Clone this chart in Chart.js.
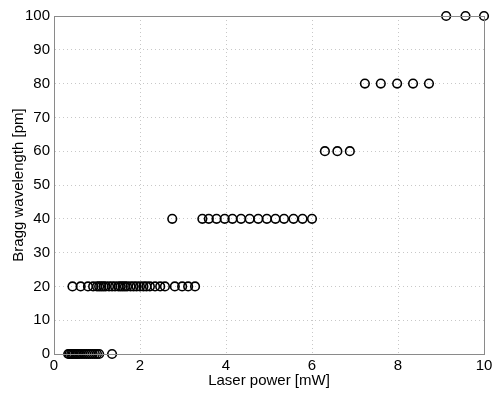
<!DOCTYPE html>
<html>
<head>
<meta charset="utf-8">
<script src="https://cdn.jsdelivr.net/npm/chart.js@4"></script>
<style>
  html, body { margin: 0; padding: 0; background: #fff; }
  #wrap { width: 492px; height: 393px; }
</style>
</head>
<body>
<div id="wrap"><canvas id="grafico" width="492" height="393"></canvas></div>
<script>
// laser power [mW] readings for each Bragg wavelength step [pm]
let power0 = [0.33, 0.36, 0.4, 0.43, 0.46, 0.5, 0.53, 0.56, 0.6, 0.65, 0.7, 0.75, 0.8, 0.85, 0.9, 0.95, 1.0, 1.05, 1.35];
let power20 = [0.43, 0.62, 0.79, 0.91, 1.0, 1.05, 1.1, 1.15, 1.2, 1.28, 1.35, 1.42, 1.5, 1.55, 1.6, 1.65, 1.7, 1.78,
               1.85, 1.92, 2.0, 2.08, 2.15, 2.23, 2.35, 2.47, 2.58, 2.81, 2.98, 3.12, 3.28];
let power40 = [2.75, 3.45, 3.6, 3.78, 3.97, 4.15, 4.35, 4.55, 4.75, 4.95, 5.15, 5.35, 5.57, 5.78, 6.0];
let power60 = [6.3, 6.59, 6.88];
let power80 = [7.23, 7.6, 7.98, 8.35, 8.72];
let power100 = [9.12, 9.57, 10.0];
let wavelength = [0, 20, 40, 60, 80, 100];
let xTicks = [0, 2, 4, 6, 8, 10];
let yTicks = [0, 10, 20, 30, 40, 50, 60, 70, 80, 90, 100];

let groups = [power0, power20, power40, power60, power80, power100];
let pts = [];
groups.forEach((g, i) => {
  g.forEach(p => pts.push({ x: p, y: wavelength[i] }));
});

let boxPlugin = {
  id: 'box',
  afterDraw(chart) {
    let a = chart.chartArea, c = chart.ctx;
    c.save();
    c.strokeStyle = '#8a8a8a';
    c.lineWidth = 1;
    c.strokeRect(a.left + 0.5, a.top + 0.5, a.right - a.left, a.bottom - a.top);
    c.restore();
  }
};

Chart.defaults.font.family = '"Liberation Sans", Arial, sans-serif';
Chart.defaults.color = '#000';

let ctx = document.getElementById('grafico');
let chart = new Chart(ctx, {
  type: 'scatter',
  data: {
    datasets: [{
      data: pts,
      pointStyle: 'circle',
      pointRadius: 4.3,
      pointBorderWidth: 1.6,
      pointBorderColor: '#000',
      pointBackgroundColor: 'rgba(0,0,0,0)',
      pointHoverRadius: 4.3,
      clip: false
    }]
  },
  options: {
    responsive: false,
    animation: false,
    events: [],
    layout: { padding: { top: 16, right: 8, left: 10, bottom: 0 } },
    plugins: { legend: { display: false }, tooltip: { enabled: false } },
    scales: {
      x: {
        type: 'linear', min: 0, max: 10,
        afterBuildTicks: ax => { ax.ticks = xTicks.map(v => ({ value: v })); },
        afterFit: ax => { ax.height = 39; ax.paddingRight = 0; },
        ticks: { font: { size: 15 }, padding: 3, maxRotation: 0 },
        grid: { color: '#c8c8c8', lineWidth: 1, drawTicks: false },
        border: { color: '#8a8a8a', dash: [1, 3] },
        title: { display: true, text: 'Laser power [mW]', font: { size: 15 }, padding: { top: 0, bottom: 3 } }
      },
      y: {
        type: 'linear', min: 0, max: 100,
        afterBuildTicks: ax => { ax.ticks = yTicks.map(v => ({ value: v })); },
        afterFit: ax => { ax.width = 44; },
        ticks: { font: { size: 15 }, padding: 4 },
        grid: { color: '#c8c8c8', lineWidth: 1, drawTicks: false },
        border: { color: '#8a8a8a', dash: [1, 3] },
        title: { display: true, text: 'Bragg wavelength [pm]', font: { size: 15 }, padding: { top: 0, bottom: 0 } }
      }
    }
  },
  plugins: [boxPlugin]
});
</script>
</body>
</html>
